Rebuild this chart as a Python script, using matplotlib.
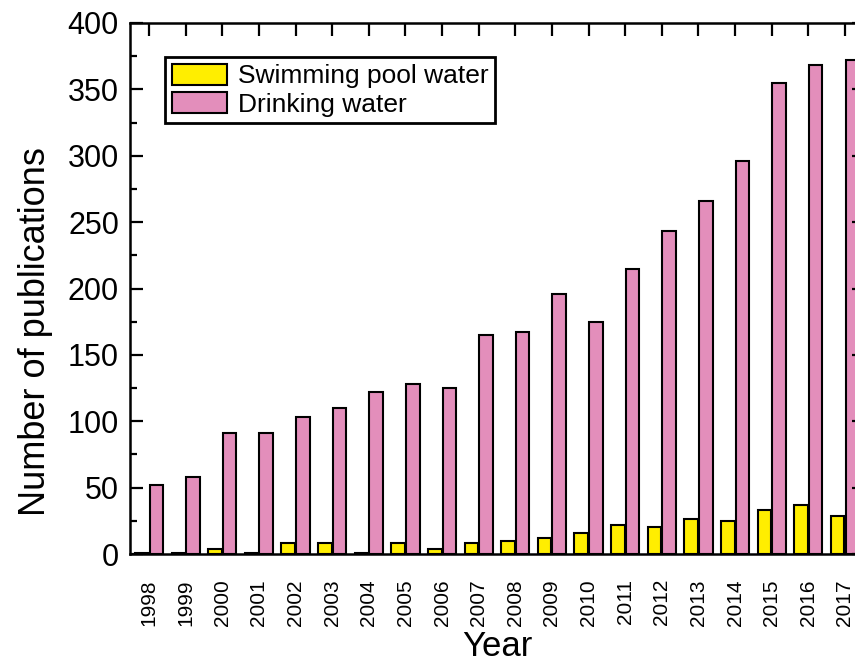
import numpy as np
import matplotlib
matplotlib.use('Agg')
import matplotlib.pyplot as plt
from matplotlib.ticker import MultipleLocator

plt.rcParams['font.family'] = ['Liberation Sans', 'DejaVu Sans']

# Publications per year
years = [str(y) for y in range(1998, 2018)]
pool = [1, 1, 4, 1, 8, 8, 1, 8, 4, 8, 10, 12, 16, 22, 20, 26, 25, 33, 37, 29]
drinking = [52, 58, 91, 91, 103, 110, 122, 128, 125, 165, 167, 196, 175, 215,
            243, 266, 296, 355, 368, 372]

pool_color = '#FFEE00'
drink_color = '#E38EBB'

fig = plt.figure(figsize=(8.55, 6.67), dpi=100)
ax = fig.add_axes([130 / 855, 113 / 667, 734 / 855, 531 / 667])

x = np.arange(len(years))
w = 0.37
ax.bar(x - 0.2, pool, width=w, color=pool_color, edgecolor='black',
       linewidth=1.5, label='Swimming pool water')
ax.bar(x + 0.2, drinking, width=w, color=drink_color, edgecolor='black',
       linewidth=1.5, label='Drinking water')

ax.set_xlim(-0.52, 19.52)
ax.set_ylim(0, 400)
ax.set_xticks(x)
ax.set_xticklabels(years, rotation=90, fontsize=15)
ax.yaxis.set_major_locator(MultipleLocator(50))
ax.yaxis.set_minor_locator(MultipleLocator(25))

for s in ax.spines.values():
    s.set_linewidth(1.8)

ax.tick_params(axis='y', which='major', direction='in', length=9, width=1.6,
               labelsize=22, pad=8, right=True)
ax.tick_params(axis='y', which='minor', direction='in', length=5, width=1.6,
               right=True)
ax.tick_params(axis='x', which='major', direction='in', length=9, width=1.6,
               top=True, bottom=False, pad=18)

ax.set_ylabel('Number of publications', fontsize=26)
ax.set_xlabel('Year', fontsize=25)
ax.yaxis.set_label_coords(-0.105, 0.419)
ax.xaxis.set_label_coords(0.501, -0.143)

leg = ax.legend(loc='upper left', bbox_to_anchor=(0.0477, 0.936),
                borderaxespad=0, fontsize=19, handlelength=2.1,
                handleheight=0.85, handletextpad=0.4, labelspacing=0.15,
                borderpad=0.25, fancybox=False, framealpha=1)
leg.get_frame().set_edgecolor('black')
leg.get_frame().set_linewidth(2)

fig.savefig('out.png', dpi=100)
